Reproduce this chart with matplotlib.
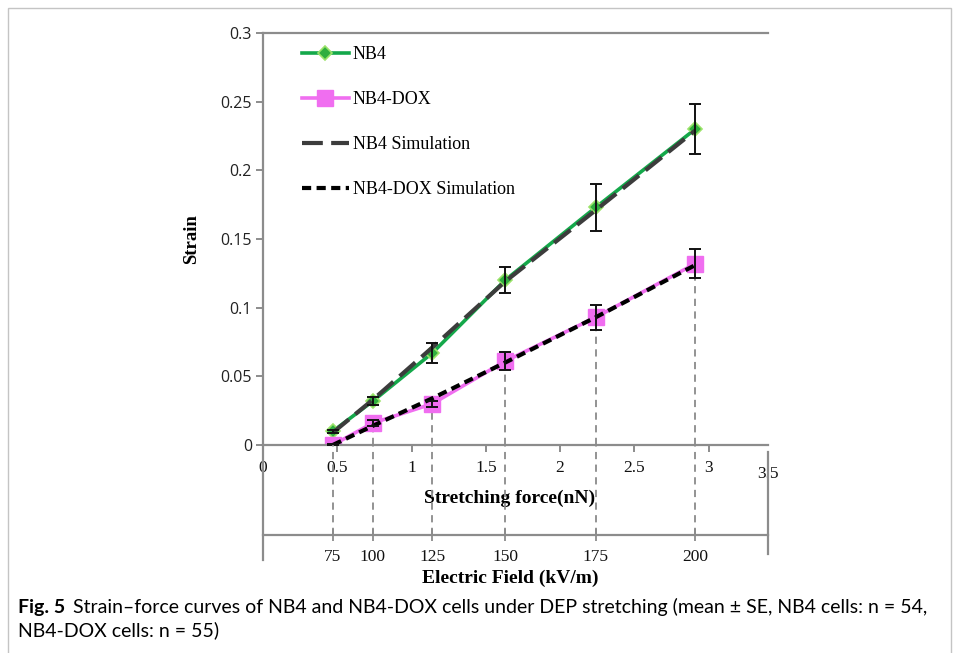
import matplotlib
matplotlib.use("Agg")
import matplotlib.pyplot as plt
from matplotlib.patches import Rectangle

# ---------------- data ----------------
force = [0.47, 0.74, 1.14, 1.63, 2.24, 2.91]          # stretching force (nN)
field_labels = ["75", "100", "125", "150", "175", "200"]  # electric field (kV/m)
nb4 = [0.010, 0.032, 0.067, 0.120, 0.173, 0.230]
nb4_err = [0.001, 0.003, 0.007, 0.0095, 0.017, 0.018]
dox = [0.000, 0.016, 0.030, 0.061, 0.093, 0.132]
dox_err = [0.001, 0.002, 0.002, 0.0065, 0.009, 0.0105]
nb4_sim = [0.009, 0.033, 0.071, 0.119, 0.171, 0.229]
dox_sim = [0.000, 0.014, 0.034, 0.060, 0.093, 0.131]
x_ticks = [0, 0.5, 1, 1.5, 2, 2.5, 3]
x_tick_labels = ["0", "0.5", "1", "1.5", "2", "2.5", "3"]
y_ticks = [0, 0.05, 0.1, 0.15, 0.2, 0.25, 0.3]
y_tick_labels = ["0", "0.05", "0.1", "0.15", "0.2", "0.25", "0.3"]

W, H = 959, 653
fig = plt.figure(figsize=(W / 100, H / 100), dpi=100)
serif = ["Liberation Serif", "DejaVu Serif"]
sans = ["Open Sans", "DejaVu Sans"]
axis_gray = "#8c8c8c"

def fx(px):
    return px / W

def fy(py):
    return 1 - py / H

# frame around figure
fig.patches.append(Rectangle((fx(8), fy(665)), fx(951) - fx(8), fy(8) - fy(665),
                             transform=fig.transFigure, fill=False,
                             edgecolor="#c4c4c4", linewidth=1.0))

# ---------------- main axes ----------------
L, R, T, B = 263, 768, 33, 445
XLIM = (0, 3.4)
ax = fig.add_axes([fx(L), fy(B), fx(R) - fx(L), fy(T) - fy(B)])
ax.set_xlim(*XLIM)
ax.set_ylim(0, 0.3)
ax.spines["right"].set_visible(False)
for s in ["left", "bottom", "top"]:
    ax.spines[s].set_color(axis_gray)
    ax.spines[s].set_linewidth(1.6)

ax.set_yticks(y_ticks)
ax.set_yticklabels(y_tick_labels, fontfamily=sans, fontsize=11.5, color="#222222")
ax.set_xticks(x_ticks)
ax.set_xticklabels(x_tick_labels, fontfamily=serif, fontsize=12.5, color="#111111")
ax.tick_params(axis="y", direction="out", length=5, width=1.4, color=axis_gray, pad=3)
ax.tick_params(axis="x", direction="out", length=5, width=1.4, color=axis_gray, pad=6)
ax.text(1.0, -0.052, "3.5", transform=ax.transAxes, ha="center", va="top",
        fontfamily=serif, fontsize=12.5, color="#111111")

ax.set_ylabel("Strain", fontfamily=serif, fontsize=13.5, fontweight="bold")
ax.yaxis.set_label_coords(-0.125, 0.5)
ax.set_xlabel("Stretching force(nN)", fontfamily=serif, fontsize=14, fontweight="bold")
ax.xaxis.set_label_coords(0.489, -0.108)

green = "#14a84a"
pink = "#f06ef0"

# vertical dashed guides (from DOX points downwards)
ax.vlines(force, 0, dox, colors="#8a8a8a", linestyles=(0, (4, 3)), linewidth=1.3,
          zorder=1)

l_nb4, = ax.plot(force, nb4, color=green, linewidth=2.6, marker="D", markersize=7,
                 markerfacecolor="#2fae3f", markeredgecolor="#9be36a",
                 markeredgewidth=1.2, zorder=2, label="NB4")
l_dox, = ax.plot(force, dox, color=pink, linewidth=2.6, marker="s", markersize=11,
                 markerfacecolor=pink, markeredgecolor=pink, zorder=2,
                 label="NB4-DOX")
ax.errorbar(force, nb4, yerr=nb4_err, fmt="none", ecolor="#111111", elinewidth=1.4,
            capsize=4, capthick=1.4, zorder=5)
ax.errorbar(force, dox, yerr=dox_err, fmt="none", ecolor="#111111", elinewidth=1.4,
            capsize=4, capthick=1.4, zorder=5)
l_sim, = ax.plot(force, nb4_sim, color="#3c3c3c", linewidth=3.0,
                 linestyle=(0, (5, 2)), zorder=3, label="NB4 Simulation")
l_dsim, = ax.plot(force, dox_sim, color="black", linewidth=3.0,
                  linestyle=(0, (2.2, 1.3)), zorder=3, label="NB4-DOX Simulation")

leg = ax.legend(handles=[l_nb4, l_dox, l_sim, l_dsim], loc="upper left",
                bbox_to_anchor=((302 - L) / (R - L), (B - 46) / (B - T)),
                frameon=False, prop={"family": serif, "size": 13},
                handlelength=2.6, handletextpad=0.2, labelspacing=1.55,
                borderaxespad=0, borderpad=0)

# ---------------- secondary (electric field) axis ----------------
B2_top, B2_bot = 445, 560
ax2 = fig.add_axes([fx(L), fy(B2_bot), fx(R) - fx(L), fy(B2_top) - fy(B2_bot)])
ax2.patch.set_alpha(0)
ax2.set_xlim(*XLIM)
ax2.set_ylim(0, 1)
ax2.spines["top"].set_visible(False)
for s in ["left", "right", "bottom"]:
    ax2.spines[s].set_color(axis_gray)
    ax2.spines[s].set_linewidth(1.6)
axis_frac = (B2_bot - 535) / (B2_bot - B2_top)
ax2.spines["bottom"].set_position(("axes", axis_frac))
ax2.spines["right"].set_bounds(0.05, 0.94)
ax2.set_yticks([])
ax2.set_xticks(force)
ax2.set_xticklabels(field_labels, fontfamily=serif, fontsize=12.5, color="#111111")
ax2.tick_params(axis="x", direction="inout", length=8, width=1.3, color=axis_gray,
                pad=6, labelbottom=True)
ax2.vlines(force, axis_frac, 1, colors="#8a8a8a", linestyles=(0, (4, 3)),
           linewidth=1.3, zorder=1)
ax2.set_xlabel("Electric Field (kV/m)", fontfamily=serif, fontsize=14,
               fontweight="bold")
ax2.xaxis.set_label_coords(0.489, -0.085)

# ---------------- caption ----------------
cap_font = ["Lato", "DejaVu Sans"]
fig.text(fx(18), fy(607), "Fig. 5", fontfamily=cap_font, fontsize=14,
         fontweight="bold", va="center", ha="left")
fig.text(fx(73), fy(607),
         "Strain\u2013force curves of NB4 and NB4-DOX cells under DEP stretching "
         "(mean \u00b1 SE, NB4 cells: n = 54,",
         fontfamily=cap_font, fontsize=14, va="center", ha="left")
fig.text(fx(18), fy(630), "NB4-DOX cells: n = 55)", fontfamily=cap_font,
         fontsize=14, va="center", ha="left")

fig.savefig("out.png", dpi=100)
